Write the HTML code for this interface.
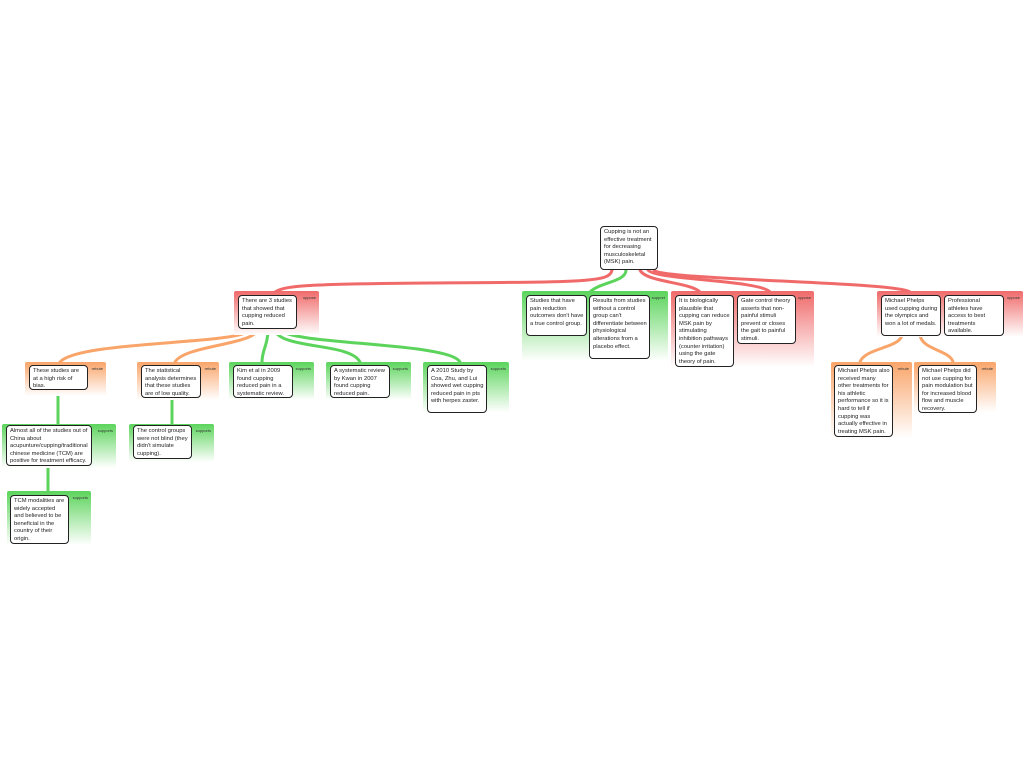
<!DOCTYPE html>
<html><head><meta charset="utf-8"><style>
body{margin:0;width:1024px;height:768px;background:#fff;position:relative;overflow:hidden;font-family:"Liberation Sans",sans-serif}
.c{position:absolute;border-radius:2px 2px 0 0;box-sizing:border-box}
.r{background:linear-gradient(#f06a6a,#fff);}
.g{background:linear-gradient(#5cd45c,#fff);}
.o{background:linear-gradient(#f9a56a,#fff);}
.lab{position:absolute;top:4px;right:3px;font-size:4px;color:#333}
.b{position:absolute;background:#fff;border:1.5px solid #222;border-radius:4px;font-size:5.8px;line-height:7.6px;color:#222;padding:2px 2px 0 3px;box-sizing:border-box;overflow:hidden}
svg{position:absolute;left:0;top:0}
</style></head><body>
<svg width="1024" height="768" fill="none" stroke-linecap="round">
<g stroke="#f06a6a" stroke-width="3">
<path d="M612 270 C610 282,590 282,430 283 C300 284,285 286,275 292"/>
<path d="M640 270 C645 282,690 282,700 292"/>
<path d="M648 270 C655 280,760 280,770 292"/>
<path d="M654 270 C660 280,900 282,910 292"/>
</g>
<g stroke="#5cd45c" stroke-width="3">
<path d="M626 270 C626 282,600 282,590 292"/>
<path d="M268 329 C268 345,262 350,262 362"/>
<path d="M274 329 C280 350,350 342,360 362"/>
<path d="M280 329 C285 345,450 342,460 362"/>
<path d="M58 390 L58 424"/>
<path d="M172 398 L172 424"/>
<path d="M48 466 L48 491"/>
</g>
<g stroke="#f9a56a" stroke-width="3">
<path d="M250 329 C248 345,80 340,60 362"/>
<path d="M258 329 C255 345,185 345,175 362"/>
<path d="M902 335 C900 348,865 348,860 362"/>
<path d="M920 335 C922 350,950 350,953 362"/>
</g>
</svg>

<div class="b" style="left:600px;top:226px;width:58px;height:44px">Cupping is not an effective treatment for decreasing musculoskeletal (MSK) pain.</div>

<div class="c r" style="left:234px;top:291px;width:85px;height:44px"><span class="lab">oppose</span></div>
<div class="b" style="left:238px;top:295px;width:59px;height:34px">There are 3 studies that showed that cupping reduced pain.</div>

<div class="c g" style="left:522px;top:291px;width:146px;height:70px"><span class="lab">support</span></div>
<div class="b" style="left:526px;top:295px;width:61px;height:41px">Studies that have pain reduction outcomes don't have a true control group.</div>
<div class="b" style="left:589px;top:295px;width:61px;height:64px">Results from studies without a control group can't differentiate between physiological alterations from a placebo effect.</div>

<div class="c r" style="left:671px;top:291px;width:143px;height:76px"><span class="lab">oppose</span></div>
<div class="b" style="left:675px;top:295px;width:59px;height:72px">It is biologically plausible that cupping can reduce MSK pain by stimulating inhibition pathways (counter irritation) using the gate theory of pain.</div>
<div class="b" style="left:737px;top:295px;width:59px;height:49px">Gate control theory asserts that non-painful stimuli prevent or closes the gait to painful stimuli.</div>

<div class="c r" style="left:877px;top:291px;width:146px;height:46px"><span class="lab">oppose</span></div>
<div class="b" style="left:881px;top:295px;width:60px;height:41px">Michael Phelps used cupping during the olympics and won a lot of medals.</div>
<div class="b" style="left:944px;top:295px;width:60px;height:41px">Professional athletes have access to best treatments available.</div>

<div class="c o" style="left:25px;top:362px;width:81px;height:34px"><span class="lab">rebute</span></div>
<div class="b" style="left:29px;top:365px;width:59px;height:25px">These studies are at a high risk of bias.</div>
<div class="c o" style="left:137px;top:362px;width:82px;height:38px"><span class="lab">rebute</span></div>
<div class="b" style="left:141px;top:365px;width:60px;height:33px">The statistical analysis determines that these studies are of low quality.</div>

<div class="c g" style="left:229px;top:362px;width:85px;height:38px"><span class="lab">supports</span></div>
<div class="b" style="left:233px;top:365px;width:60px;height:33px">Kim et al in 2009 found cupping reduced pain in a systematic review.</div>
<div class="c g" style="left:326px;top:362px;width:85px;height:38px"><span class="lab">supports</span></div>
<div class="b" style="left:330px;top:365px;width:60px;height:33px">A systematic review by Kwan in 2007 found cupping reduced pain.</div>
<div class="c g" style="left:423px;top:362px;width:86px;height:50px"><span class="lab">supports</span></div>
<div class="b" style="left:427px;top:365px;width:60px;height:48px">A 2010 Study by Coa, Zhu, and Lui showed wet cupping reduced pain in pts with herpes zaster.</div>

<div class="c g" style="left:2px;top:424px;width:114px;height:44px"><span class="lab">supports</span></div>
<div class="b" style="left:6px;top:425px;width:86px;height:41px">Almost all of the studies out of China about acupunture/cupping/traditional chinese medicine (TCM) are positive for treatment efficacy.</div>
<div class="c g" style="left:129px;top:424px;width:85px;height:38px"><span class="lab">supports</span></div>
<div class="b" style="left:133px;top:425px;width:59px;height:34px">The control groups were not blind (they didn't simulate cupping).</div>

<div class="c g" style="left:7px;top:491px;width:84px;height:54px"><span class="lab">supports</span></div>
<div class="b" style="left:10px;top:495px;width:59px;height:49px">TCM modalities are widely accepted and believed to be beneficial in the country of their origin.</div>

<div class="c o" style="left:831px;top:362px;width:81px;height:76px"><span class="lab">rebute</span></div>
<div class="b" style="left:834px;top:365px;width:59px;height:72px">Michael Phelps also received many other treatments for his athletic performance so it is hard to tell if cupping was actually effective in treating MSK pain.</div>
<div class="c o" style="left:914px;top:362px;width:82px;height:50px"><span class="lab">rebute</span></div>
<div class="b" style="left:918px;top:365px;width:59px;height:48px">Michael Phelps did not use cupping for pain modulation but for increased blood flow and muscle recovery.</div>
</body></html>
